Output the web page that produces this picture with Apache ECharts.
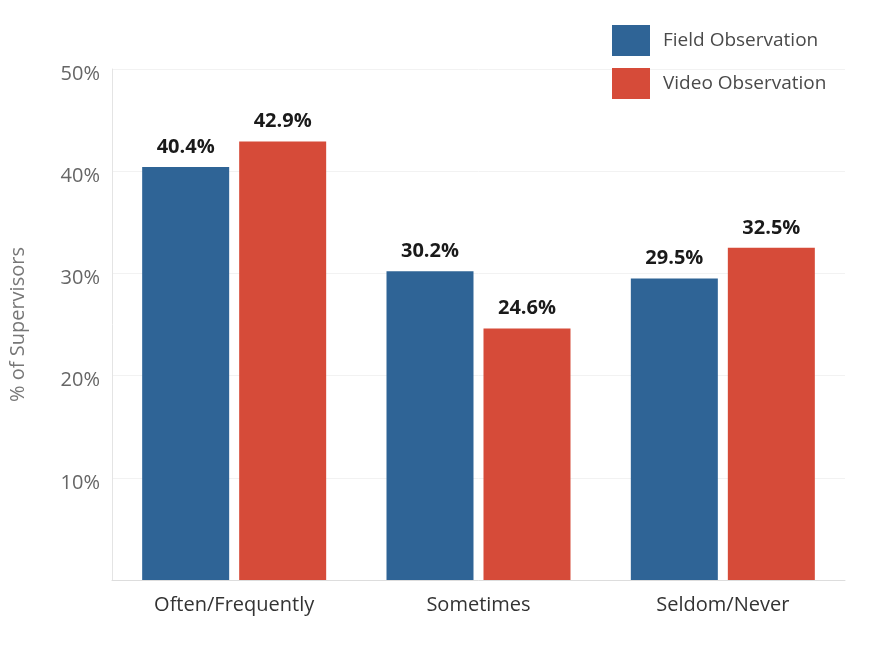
<!DOCTYPE html>
<html>
<head>
<meta charset="utf-8">
<script src="https://cdn.jsdelivr.net/npm/echarts@6/dist/echarts.min.js"></script>
<style>html,body{margin:0;padding:0;background:#fff}#c{width:888px;height:654px}</style>
</head>
<body>
<div id="c"></div>
<script>
const categories = ['Often/Frequently', 'Sometimes', 'Seldom/Never'];
const fieldObservation = [40.4, 30.2, 29.5];
const videoObservation = [42.9, 24.6, 32.5];
const seriesNames = ['Field Observation', 'Video Observation'];
const yTicks = [0, 10, 20, 30, 40, 50];

const chart = echarts.init(document.getElementById('c'));
const font = '"Open Sans", sans-serif';
const labelStyle = {
  show: true, position: 'top', distance: 10,
  formatter: p => p.value.toFixed(1) + '%',
  fontFamily: font, fontWeight: 'bold', fontSize: 20, color: '#1a1a1a'
};
chart.setOption({
  animation: false,
  backgroundColor: '#fff',
  legend: {
    orient: 'vertical', left: 607, top: 20,
    itemWidth: 38, itemHeight: 31, itemGap: 12,
    icon: 'rect',
    textStyle: { fontFamily: font, fontSize: 19, color: '#4a4a4a', padding: [0, 0, 0, 8] },
    data: seriesNames
  },
  grid: { left: 112, right: 43, top: 69, bottom: 74, containLabel: false },
  xAxis: {
    type: 'category', data: categories,
    axisLine: { lineStyle: { color: '#ddd' } },
    axisTick: { show: false },
    axisLabel: { fontFamily: font, fontSize: 20, color: '#333', margin: 15 }
  },
  yAxis: {
    type: 'value', min: yTicks[0], max: yTicks[yTicks.length - 1], interval: 10,
    name: '% of Supervisors', nameLocation: 'middle', nameGap: 84,
    nameTextStyle: { fontFamily: font, fontSize: 20, color: '#777' },
    axisLine: { show: true, lineStyle: { color: '#e4e4e4' } },
    axisTick: { show: false },
    splitLine: { lineStyle: { color: '#f2f2f2' } },
    axisLabel: {
      fontFamily: font, fontSize: 20, color: '#666', margin: 12,
      verticalAlign: 'top', lineHeight: 10,
      formatter: v => v === 0 ? '' : v + '%'
    }
  },
  series: [
    { name: seriesNames[0], type: 'bar', data: fieldObservation, barWidth: 87, barGap: '11.5%',
      itemStyle: { color: '#2f6496' }, label: labelStyle },
    { name: seriesNames[1], type: 'bar', data: videoObservation, barWidth: 87,
      itemStyle: { color: '#d64b39' }, label: labelStyle }
  ]
});
</script>
</body>
</html>
